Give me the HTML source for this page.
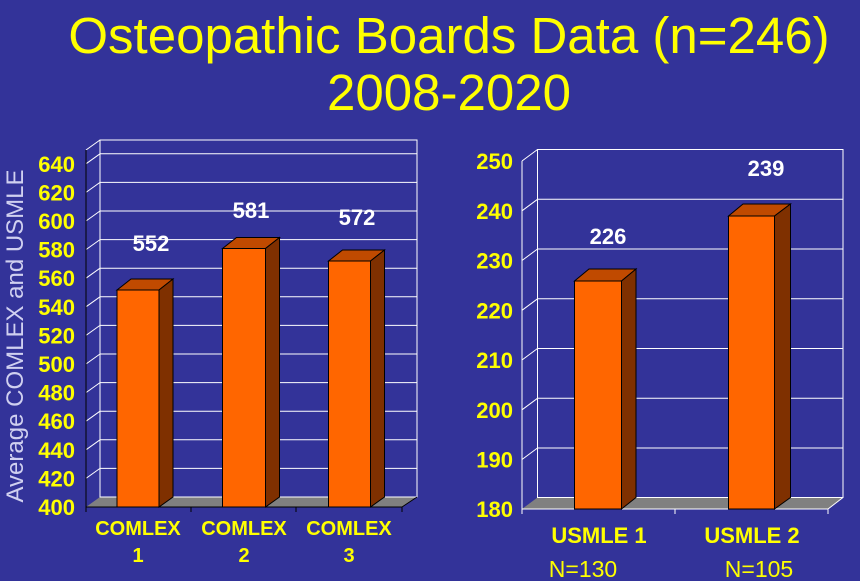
<!DOCTYPE html>
<html><head><meta charset="utf-8"><style>
html,body{margin:0;padding:0;background:#333399;}
svg{display:block;}
</style></head><body>
<svg width="860" height="581" viewBox="0 0 860 581" xmlns="http://www.w3.org/2000/svg" font-family="Liberation Sans, Arial, sans-serif">
<rect width="860" height="581" fill="#333399"/>
<text x="449" y="53" fill="#ffff00" font-size="51" text-anchor="middle">Osteopathic Boards Data (n=246)</text>
<text x="449" y="110" fill="#ffff00" font-size="51" text-anchor="middle">2008-2020</text>

<!-- LEFT CHART -->
<g stroke="#ffffff" stroke-width="1" fill="none">
  <polygon points="86,507 100,497 417,497 402,507" fill="#808080" stroke="none"/>
  <rect x="100" y="140" width="317" height="357"/>
  <line x1="86" y1="150" x2="100" y2="140"/>
</g>
<g stroke="#ffffff" stroke-width="1">
  <line x1="100" y1="468.4" x2="417" y2="468.4"/><line x1="86" y1="478.4" x2="100" y2="468.4"/>
  <line x1="100" y1="439.8" x2="417" y2="439.8"/><line x1="86" y1="449.8" x2="100" y2="439.8"/>
  <line x1="100" y1="411.2" x2="417" y2="411.2"/><line x1="86" y1="421.2" x2="100" y2="411.2"/>
  <line x1="100" y1="382.6" x2="417" y2="382.6"/><line x1="86" y1="392.6" x2="100" y2="382.6"/>
  <line x1="100" y1="354" x2="417" y2="354"/><line x1="86" y1="364" x2="100" y2="354"/>
  <line x1="100" y1="325.4" x2="417" y2="325.4"/><line x1="86" y1="335.4" x2="100" y2="325.4"/>
  <line x1="100" y1="296.8" x2="417" y2="296.8"/><line x1="86" y1="306.8" x2="100" y2="296.8"/>
  <line x1="100" y1="268.2" x2="417" y2="268.2"/><line x1="86" y1="278.2" x2="100" y2="268.2"/>
  <line x1="100" y1="239.6" x2="417" y2="239.6"/><line x1="86" y1="249.6" x2="100" y2="239.6"/>
  <line x1="100" y1="211" x2="417" y2="211"/><line x1="86" y1="221" x2="100" y2="211"/>
  <line x1="100" y1="182.4" x2="417" y2="182.4"/><line x1="86" y1="192.4" x2="100" y2="182.4"/>
  <line x1="100" y1="153.8" x2="417" y2="153.8"/><line x1="86" y1="163.8" x2="100" y2="153.8"/>
</g>
<g stroke="#000" stroke-width="1">
  <line x1="86" y1="150" x2="86" y2="507"/>
  <line x1="86" y1="507" x2="402" y2="507"/>
  <line x1="402" y1="507" x2="417" y2="497"/>
  <line x1="86" y1="507" x2="86" y2="512"/><line x1="191" y1="507" x2="191" y2="512"/>
  <line x1="296" y1="507" x2="296" y2="512"/><line x1="402" y1="507" x2="402" y2="512"/>
</g>
<g stroke="#000" stroke-width="1">
  <polygon points="117,290 131,279 173,279 159,290" fill="#c04a00"/>
  <polygon points="159,290 173,279 173,497 159,507" fill="#7f3000"/>
  <rect x="117" y="290" width="42" height="217" fill="#ff6600"/>
  <polygon points="222.5,248.5 236.5,237.5 279.5,237.5 265.5,248.5" fill="#c04a00"/>
  <polygon points="265.5,248.5 279.5,237.5 279.5,497 265.5,507" fill="#7f3000"/>
  <rect x="222.5" y="248.5" width="43" height="258.5" fill="#ff6600"/>
  <polygon points="328.5,261 342.5,250 384.5,250 370.5,261" fill="#c04a00"/>
  <polygon points="370.5,261 384.5,250 384.5,497 370.5,507" fill="#7f3000"/>
  <rect x="328.5" y="261" width="42" height="246" fill="#ff6600"/>
</g>
<g fill="#ffffff" font-size="22" font-weight="bold" text-anchor="middle">
  <text x="151" y="251">552</text>
  <text x="251" y="218">581</text>
  <text x="357" y="225">572</text>
</g>
<g fill="#ffff00" font-size="22" font-weight="bold" text-anchor="end">
  <text x="75" y="515">400</text><text x="75" y="486.4">420</text><text x="75" y="457.8">440</text>
  <text x="75" y="429.2">460</text><text x="75" y="400.6">480</text><text x="75" y="372">500</text>
  <text x="75" y="343.4">520</text><text x="75" y="314.8">540</text><text x="75" y="286.2">560</text>
  <text x="75" y="257.6">580</text><text x="75" y="229">600</text><text x="75" y="200.4">620</text>
  <text x="75" y="171.8">640</text>
</g>
<text transform="translate(23,336) rotate(-90)" fill="#d0d0f0" font-size="24" text-anchor="middle">Average COMLEX and USMLE</text>
<g fill="#ffff00" font-size="20" font-weight="bold" text-anchor="middle">
  <text x="138" y="535">COMLEX</text><text x="138" y="562">1</text>
  <text x="244" y="535">COMLEX</text><text x="244" y="562">2</text>
  <text x="349" y="535">COMLEX</text><text x="349" y="562">3</text>
</g>

<!-- RIGHT CHART -->
<polygon points="522,509 537.5,497.5 843,497.5 828,509" fill="#808080"/>
<g stroke="#ffffff" stroke-width="1" fill="none">
  <rect x="537.5" y="149.5" width="305.5" height="348"/>
  <line x1="522" y1="161" x2="537.5" y2="149.5"/>
</g>
<g stroke="#ffffff" stroke-width="1">
  <line x1="537.5" y1="448" x2="843" y2="448"/><line x1="522" y1="459.5" x2="537.5" y2="448"/>
  <line x1="537.5" y1="398.3" x2="843" y2="398.3"/><line x1="522" y1="409.8" x2="537.5" y2="398.3"/>
  <line x1="537.5" y1="348.5" x2="843" y2="348.5"/><line x1="522" y1="360" x2="537.5" y2="348.5"/>
  <line x1="537.5" y1="298.8" x2="843" y2="298.8"/><line x1="522" y1="310.3" x2="537.5" y2="298.8"/>
  <line x1="537.5" y1="249" x2="843" y2="249"/><line x1="522" y1="260.5" x2="537.5" y2="249"/>
  <line x1="537.5" y1="199.3" x2="843" y2="199.3"/><line x1="522" y1="210.8" x2="537.5" y2="199.3"/>
  <line x1="522" y1="161" x2="522" y2="509"/>
  <line x1="522" y1="509" x2="828" y2="509"/>
  <line x1="828" y1="509" x2="843" y2="497.5"/>
  <line x1="522" y1="509" x2="522" y2="514"/><line x1="675" y1="509" x2="675" y2="514"/>
  <line x1="828" y1="509" x2="828" y2="514"/>
</g>
<g stroke="#000" stroke-width="1">
  <polygon points="574.5,281 589,269 636,269 621.5,281" fill="#c04a00"/>
  <polygon points="621.5,281 636,269 636,497.5 621.5,509" fill="#7f3000"/>
  <rect x="574.5" y="281" width="47" height="228" fill="#ff6600"/>
  <polygon points="728.5,216 743,204 790.5,204 774.5,216" fill="#c04a00"/>
  <polygon points="774.5,216 790.5,204 790.5,497.5 774.5,509" fill="#7f3000"/>
  <rect x="728.5" y="216" width="46" height="293" fill="#ff6600"/>
</g>
<g fill="#ffffff" font-size="22" font-weight="bold" text-anchor="middle">
  <text x="608" y="244">226</text>
  <text x="766" y="176">239</text>
</g>
<g fill="#ffff00" font-size="22" font-weight="bold" text-anchor="end">
  <text x="513" y="517">180</text><text x="513" y="467.5">190</text><text x="513" y="417.8">200</text>
  <text x="513" y="368">210</text><text x="513" y="318.3">220</text><text x="513" y="268.5">230</text>
  <text x="513" y="218.8">240</text><text x="513" y="169">250</text>
</g>
<g fill="#ffff00" font-size="22" font-weight="bold" text-anchor="middle">
  <text x="599" y="543">USMLE 1</text>
  <text x="752" y="543">USMLE 2</text>
</g>
<g fill="#ffff00" font-size="23" text-anchor="middle">
  <text x="583" y="577">N=130</text>
  <text x="759" y="577">N=105</text>
</g>
</svg>
</body></html>
